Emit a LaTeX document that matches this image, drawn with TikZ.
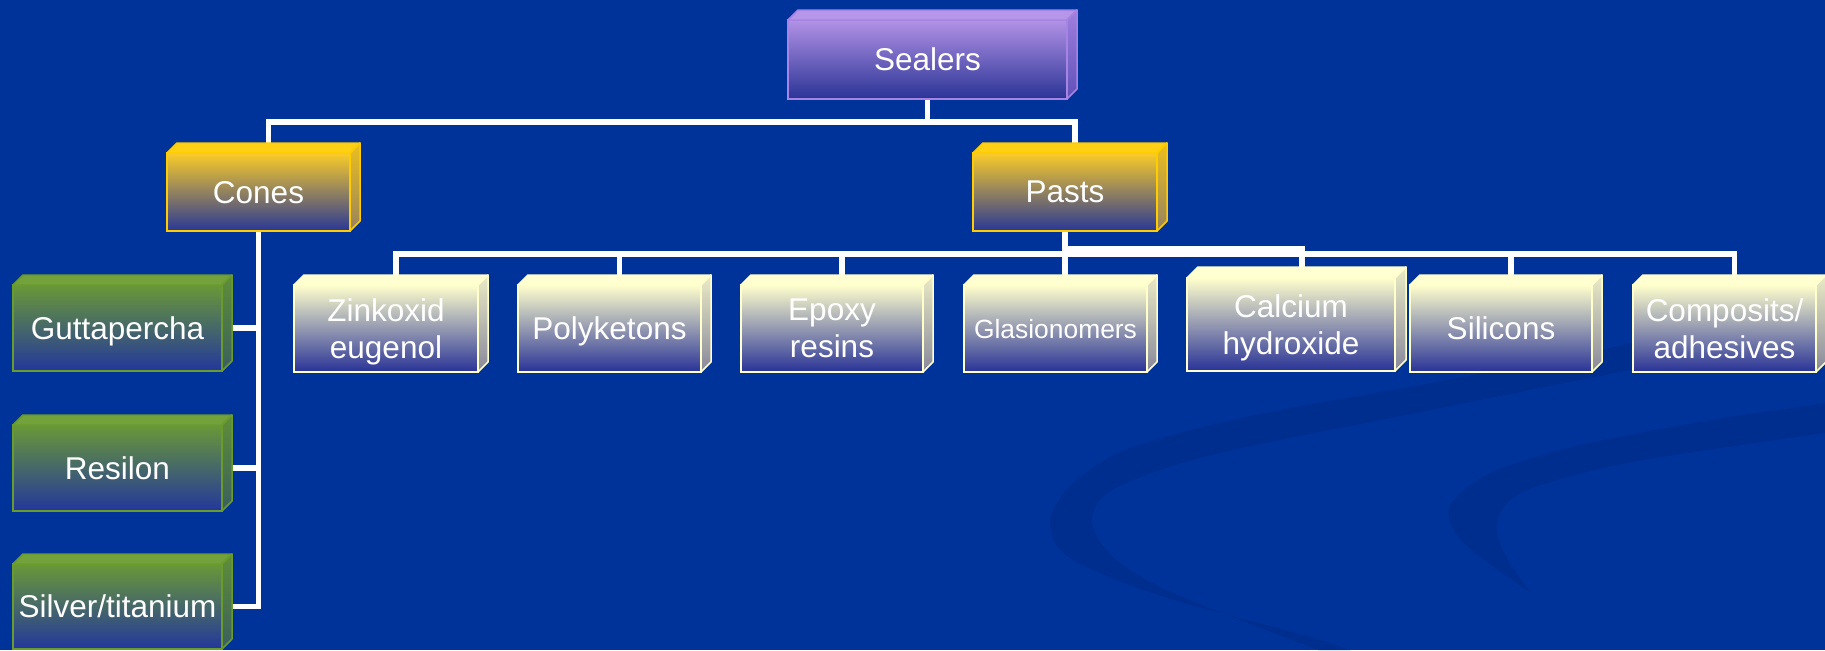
\documentclass[tikz,border=0pt]{standalone}
\usepackage{fontspec}
\setmainfont{Liberation Sans}
\usetikzlibrary{calc}
\pgfdeclarelayer{back}
\pgfdeclarelayer{conn}
\pgfsetlayers{back,conn,main}
\definecolor{bgblue}{RGB}{0,51,153}
\definecolor{swoosh}{RGB}{0,46,143}
% purple
\definecolor{Pbord}{RGB}{165,132,228}
\definecolor{Ptop}{RGB}{178,146,230}
\definecolor{Pmid}{RGB}{125,100,205}
\definecolor{Pbot}{RGB}{42,52,150}
\definecolor{Ptf}{RGB}{182,150,232}
\definecolor{Ps1}{RGB}{160,128,222}
\definecolor{Ps2}{RGB}{95,80,185}
% yellow
\definecolor{Ybord}{RGB}{255,204,0}
\definecolor{Ytop}{RGB}{250,204,40}
\definecolor{Ymid}{RGB}{178,145,115}
\definecolor{Ybot}{RGB}{40,55,150}
\definecolor{Ytf}{RGB}{255,208,20}
\definecolor{Ys1}{RGB}{236,192,30}
\definecolor{Ys2}{RGB}{150,130,95}
% green
\definecolor{Gbord}{RGB}{105,155,45}
\definecolor{Gtop}{RGB}{105,152,55}
\definecolor{Gmid}{RGB}{72,112,105}
\definecolor{Gbot}{RGB}{35,55,155}
\definecolor{Gtf}{RGB}{115,162,60}
\definecolor{Gs1}{RGB}{95,142,55}
\definecolor{Gs2}{RGB}{58,95,95}
% light yellow
\definecolor{Lbord}{RGB}{255,255,204}
\definecolor{Ltop}{RGB}{255,255,204}
\definecolor{Lmid}{RGB}{172,172,170}
\definecolor{Lbot}{RGB}{40,50,150}
\definecolor{Ltf}{RGB}{255,255,210}
\definecolor{Ls1}{RGB}{235,235,198}
\definecolor{Ls2}{RGB}{135,135,155}
\tikzset{
  conn/.style={draw=white, line width=2.75pt, line join=miter},
  face/.style={inner sep=0pt, outer sep=0pt, line width=0.75pt, text=white,
    align=center, text depth=0pt, font=\fontsize{15.75}{18.5}\selectfont},
  Pface/.style={face, draw=Pbord, top color=Ptop, middle color=Pmid, bottom color=Pbot},
  Yface/.style={face, draw=Ybord, top color=Ytop, middle color=Ymid, bottom color=Ybot},
  Gface/.style={face, draw=Gbord, top color=Gtop, middle color=Gmid, bottom color=Gbot},
  Lface/.style={face, draw=Lbord, top color=Ltop, middle color=Lmid, bottom color=Lbot},
  Ptopf/.style={fill=Ptf, draw=Pbord, line width=0.75pt, line join=round},
  Ytopf/.style={fill=Ytf, draw=Ybord, line width=0.75pt, line join=round},
  Gtopf/.style={fill=Gtf, draw=Gbord, line width=0.75pt, line join=round},
  Ltopf/.style={fill=Ltf, draw=Lbord, line width=0.75pt, line join=round},
  Psidef/.style={top color=Ps1, bottom color=Ps2, draw=Pbord, line width=0.75pt, line join=round},
  Ysidef/.style={top color=Ys1, bottom color=Ys2, draw=Ybord, line width=0.75pt, line join=round},
  Gsidef/.style={top color=Gs1, bottom color=Gs2, draw=Gbord, line width=0.75pt, line join=round},
  Lsidef/.style={top color=Ls1, bottom color=Ls2, draw=Lbord, line width=0.75pt, line join=round},
}
% #1 family, #2 name, #3 x1, #4 y1, #5 x2, #6 y2, #7 text, #8 depth
\newcommand{\cbox}[8]{%
  \pgfmathsetmacro{\cbW}{(#5-#3)/2}%
  \pgfmathsetmacro{\cbH}{(#6-#4)/2}%
  \node[#1face, minimum width=\cbW pt, minimum height=\cbH pt] (#2) at ({(#3+#5)/2},{(#4+#6)/2}) {#7};
  \path[#1topf] (#2.north west) -- ++(#8,-#8) -- ($(#2.north east)+(#8,-#8)$) -- (#2.north east) -- cycle;
  \path[#1sidef] (#2.north east) -- ++(#8,-#8) -- ($(#2.south east)+(#8,-#8)$) -- (#2.south east) -- cycle;
  \coordinate (#2T) at ($(#2.north)+(#8,-#8)$);
}
\begin{document}
\begin{tikzpicture}[x=0.5pt,y=-0.5pt]
\path[use as bounding box, clip] (0,0) rectangle (1825,650);
\begin{pgfonlayer}{back}
  \fill[bgblue] (0,0) rectangle (1825,650);
  \fill[swoosh] plot[smooth] coordinates {(1825,299) (1600,350) (1447,380) (1250,416) (1130,448) (1074,482) (1050,520) (1068,557) (1158,595) (1300,634) (1350,650)}
     -- plot[smooth] coordinates {(1318,650) (1230,616) (1158,586) (1112,556) (1092,522) (1112,490) (1211,455) (1421,412) (1600,376) (1825,331)} -- cycle;
  \fill[swoosh] plot[smooth] coordinates {(1825,403) (1711,420) (1580,445) (1492,472) (1450,505) (1458,537) (1495,568) (1530,592)}
     -- plot[smooth] coordinates {(1530,592) (1508,560) (1497,532) (1503,508) (1532,488) (1632,462) (1825,433)} -- cycle;
\end{pgfonlayer}

\cbox{P}{sealers}{788}{20}{1067}{99}{Sealers}{10}
\cbox{Y}{cones}{167}{153}{350}{231}{Cones}{10}
\cbox{Y}{pasts}{973}{153}{1157}{231}{Pasts}{10}

\cbox{G}{gutta}{13}{285}{222}{371}{Guttapercha}{10}
\cbox{G}{resilon}{13}{425}{222}{511}{Resilon}{10}
\cbox{G}{silver}{13}{564}{222}{649}{Silver/titanium}{10}

\cbox{L}{zink}{294}{285}{478}{372}{Zinkoxid\\eugenol}{10}
\cbox{L}{poly}{518}{285}{701}{372}{Polyketons}{10}
\cbox{L}{epoxy}{741}{285}{923}{372}{Epoxy\\resins}{10}
\cbox{L}{glas}{964}{285}{1147}{372}{\fontsize{13.2}{16}\selectfont Glasionomers}{10}
\cbox{L}{calc}{1187}{278}{1395}{371}{Calcium\\hydroxide}{11}
\cbox{L}{sili}{1410}{285}{1592}{372}{Silicons}{10}
\cbox{L}{comp}{1633}{285}{1816}{372}{Composits/\\adhesives}{10}

\begin{pgfonlayer}{conn}
  \coordinate (bus0) at (0,122);
  \coordinate (bus1) at (0,254);
  \coordinate (bus2) at (0,249);
  \draw[conn] (sealers.south) -- (sealers.south |- bus0);
  \draw[conn] (conesT) -- (conesT |- bus0) -- (pastsT |- bus0) -- (pastsT);
  \draw[conn] (cones.south) -- (cones.south |- silver.east) -- (silver.east);
  \draw[conn] (gutta.east) -- (gutta.east -| cones.south);
  \draw[conn] (resilon.east) -- (resilon.east -| cones.south);
  \draw[conn] (pasts.south) -- (pasts.south |- glasT);
  \draw[conn] (zinkT) -- (zinkT |- bus1) -- (compT |- bus1) -- (compT);
  \draw[conn] (polyT) -- (polyT |- bus1);
  \draw[conn] (epoxyT) -- (epoxyT |- bus1);
  \draw[conn] (siliT) -- (siliT |- bus1);
  \draw[conn] (pasts.south |- bus1) -- (pasts.south |- bus2) -- (calcT |- bus2) -- (calcT);
\end{pgfonlayer}
\end{tikzpicture}
\end{document}
